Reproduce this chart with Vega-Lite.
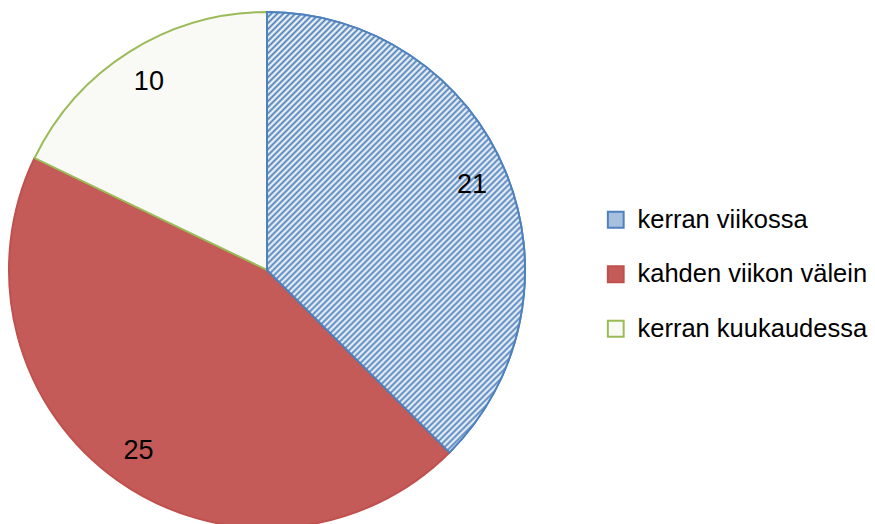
{
  "$schema": "https://vega.github.io/schema/vega-lite/v6.json",
  "width": 534,
  "height": 508,
  "autosize": {"type": "none"},
  "padding": {"left": 0, "top": 16, "right": 341, "bottom": 0},
  "background": "white",
  "config": {"view": {"stroke": null}},
  "data": {"values": [
    {"cat": "kerran viikossa", "value": 21, "o": 1},
    {"cat": "kahden viikon välein", "value": 25, "o": 2},
    {"cat": "kerran kuukaudessa", "value": 10, "o": 3}
  ]},
  "encoding": {
    "theta": {"field": "value", "type": "quantitative", "stack": true},
    "order": {"field": "o", "type": "quantitative"}
  },
  "layer": [
    {
      "mark": {"type": "arc", "outerRadius": 258, "strokeWidth": 2},
      "encoding": {
        "fill": {"field": "cat", "type": "nominal",
          "scale": {"domain": ["kerran viikossa", "kahden viikon välein", "kerran kuukaudessa"], "range": ["#A7C0DE", "#C45B58", "#F9FAF5"]},
          "legend": {"title": null, "orient": "none", "legendX": 603, "legendY": 191, "labelFont": "Liberation Sans", "labelFontSize": 25.5, "labelColor": "black", "symbolType": "square", "symbolSize": 250, "symbolStrokeWidth": 2, "rowPadding": 27.5, "labelOffset": 9, "labelLimit": 400, "padding": 0}},
        "stroke": {"field": "cat", "type": "nominal",
          "scale": {"domain": ["kerran viikossa", "kahden viikon välein", "kerran kuukaudessa"], "range": ["#4F81BD", "#C0504D", "#9BBB59"]},
          "legend": {"title": null, "orient": "none", "legendX": 603, "legendY": 191, "labelFont": "Liberation Sans", "labelFontSize": 25.5, "labelColor": "black", "symbolType": "square", "symbolSize": 250, "symbolStrokeWidth": 2, "rowPadding": 27.5, "labelOffset": 9, "labelLimit": 400, "padding": 0}}
      }
    },
    {
      "mark": {"type": "arc", "outerRadius": 258, "strokeWidth": 2, "stroke": "#4F81BD",
        "fill": {"gradient": "linear", "x1": 0, "y1": 0, "x2": 0.6917, "y2": 1.1806, "stops": [
{"offset":0,"color":"#4F81BD"},{"offset":0.0043,"color":"#fff"},{"offset":0.0086,"color":"#4F81BD"},{"offset":0.0129,"color":"#fff"},{"offset":0.0172,"color":"#4F81BD"},{"offset":0.0215,"color":"#fff"},{"offset":0.0258,"color":"#4F81BD"},{"offset":0.0301,"color":"#fff"},{"offset":0.0344,"color":"#4F81BD"},{"offset":0.0387,"color":"#fff"},
{"offset":0.043,"color":"#4F81BD"},{"offset":0.0473,"color":"#fff"},{"offset":0.0516,"color":"#4F81BD"},{"offset":0.0559,"color":"#fff"},{"offset":0.0602,"color":"#4F81BD"},{"offset":0.0645,"color":"#fff"},{"offset":0.0688,"color":"#4F81BD"},{"offset":0.0731,"color":"#fff"},{"offset":0.0774,"color":"#4F81BD"},{"offset":0.0817,"color":"#fff"},
{"offset":0.086,"color":"#4F81BD"},{"offset":0.0903,"color":"#fff"},{"offset":0.0946,"color":"#4F81BD"},{"offset":0.0989,"color":"#fff"},{"offset":0.1032,"color":"#4F81BD"},{"offset":0.1075,"color":"#fff"},{"offset":0.1118,"color":"#4F81BD"},{"offset":0.1161,"color":"#fff"},{"offset":0.1204,"color":"#4F81BD"},{"offset":0.1247,"color":"#fff"},
{"offset":0.129,"color":"#4F81BD"},{"offset":0.1333,"color":"#fff"},{"offset":0.1376,"color":"#4F81BD"},{"offset":0.1419,"color":"#fff"},{"offset":0.1462,"color":"#4F81BD"},{"offset":0.1505,"color":"#fff"},{"offset":0.1548,"color":"#4F81BD"},{"offset":0.1591,"color":"#fff"},{"offset":0.1634,"color":"#4F81BD"},{"offset":0.1677,"color":"#fff"},
{"offset":0.172,"color":"#4F81BD"},{"offset":0.1763,"color":"#fff"},{"offset":0.1806,"color":"#4F81BD"},{"offset":0.1849,"color":"#fff"},{"offset":0.1892,"color":"#4F81BD"},{"offset":0.1935,"color":"#fff"},{"offset":0.1978,"color":"#4F81BD"},{"offset":0.2021,"color":"#fff"},{"offset":0.2064,"color":"#4F81BD"},{"offset":0.2107,"color":"#fff"},
{"offset":0.215,"color":"#4F81BD"},{"offset":0.2193,"color":"#fff"},{"offset":0.2236,"color":"#4F81BD"},{"offset":0.2279,"color":"#fff"},{"offset":0.2322,"color":"#4F81BD"},{"offset":0.2365,"color":"#fff"},{"offset":0.2408,"color":"#4F81BD"},{"offset":0.2451,"color":"#fff"},{"offset":0.2494,"color":"#4F81BD"},{"offset":0.2537,"color":"#fff"},
{"offset":0.258,"color":"#4F81BD"},{"offset":0.2623,"color":"#fff"},{"offset":0.2666,"color":"#4F81BD"},{"offset":0.2709,"color":"#fff"},{"offset":0.2752,"color":"#4F81BD"},{"offset":0.2795,"color":"#fff"},{"offset":0.2838,"color":"#4F81BD"},{"offset":0.2881,"color":"#fff"},{"offset":0.2924,"color":"#4F81BD"},{"offset":0.2967,"color":"#fff"},
{"offset":0.301,"color":"#4F81BD"},{"offset":0.3053,"color":"#fff"},{"offset":0.3096,"color":"#4F81BD"},{"offset":0.3139,"color":"#fff"},{"offset":0.3182,"color":"#4F81BD"},{"offset":0.3225,"color":"#fff"},{"offset":0.3268,"color":"#4F81BD"},{"offset":0.3311,"color":"#fff"},{"offset":0.3354,"color":"#4F81BD"},{"offset":0.3397,"color":"#fff"},
{"offset":0.344,"color":"#4F81BD"},{"offset":0.3483,"color":"#fff"},{"offset":0.3526,"color":"#4F81BD"},{"offset":0.3569,"color":"#fff"},{"offset":0.3612,"color":"#4F81BD"},{"offset":0.3655,"color":"#fff"},{"offset":0.3698,"color":"#4F81BD"},{"offset":0.3741,"color":"#fff"},{"offset":0.3784,"color":"#4F81BD"},{"offset":0.3827,"color":"#fff"},
{"offset":0.387,"color":"#4F81BD"},{"offset":0.3913,"color":"#fff"},{"offset":0.3956,"color":"#4F81BD"},{"offset":0.3999,"color":"#fff"},{"offset":0.4042,"color":"#4F81BD"},{"offset":0.4085,"color":"#fff"},{"offset":0.4128,"color":"#4F81BD"},{"offset":0.4171,"color":"#fff"},{"offset":0.4214,"color":"#4F81BD"},{"offset":0.4257,"color":"#fff"},
{"offset":0.43,"color":"#4F81BD"},{"offset":0.4343,"color":"#fff"},{"offset":0.4386,"color":"#4F81BD"},{"offset":0.4429,"color":"#fff"},{"offset":0.4472,"color":"#4F81BD"},{"offset":0.4515,"color":"#fff"},{"offset":0.4558,"color":"#4F81BD"},{"offset":0.4601,"color":"#fff"},{"offset":0.4644,"color":"#4F81BD"},{"offset":0.4687,"color":"#fff"},
{"offset":0.473,"color":"#4F81BD"},{"offset":0.4773,"color":"#fff"},{"offset":0.4816,"color":"#4F81BD"},{"offset":0.4859,"color":"#fff"},{"offset":0.4902,"color":"#4F81BD"},{"offset":0.4945,"color":"#fff"},{"offset":0.4988,"color":"#4F81BD"},{"offset":0.5031,"color":"#fff"},{"offset":0.5074,"color":"#4F81BD"},{"offset":0.5117,"color":"#fff"},
{"offset":0.516,"color":"#4F81BD"},{"offset":0.5203,"color":"#fff"},{"offset":0.5246,"color":"#4F81BD"},{"offset":0.5289,"color":"#fff"},{"offset":0.5332,"color":"#4F81BD"},{"offset":0.5375,"color":"#fff"},{"offset":0.5418,"color":"#4F81BD"},{"offset":0.5461,"color":"#fff"},{"offset":0.5504,"color":"#4F81BD"},{"offset":0.5547,"color":"#fff"},
{"offset":0.559,"color":"#4F81BD"},{"offset":0.5633,"color":"#fff"},{"offset":0.5676,"color":"#4F81BD"},{"offset":0.5719,"color":"#fff"},{"offset":0.5762,"color":"#4F81BD"},{"offset":0.5805,"color":"#fff"},{"offset":0.5848,"color":"#4F81BD"},{"offset":0.5891,"color":"#fff"},{"offset":0.5934,"color":"#4F81BD"},{"offset":0.5977,"color":"#fff"},
{"offset":0.602,"color":"#4F81BD"},{"offset":0.6063,"color":"#fff"},{"offset":0.6106,"color":"#4F81BD"},{"offset":0.6149,"color":"#fff"},{"offset":0.6192,"color":"#4F81BD"},{"offset":0.6235,"color":"#fff"},{"offset":0.6278,"color":"#4F81BD"},{"offset":0.6321,"color":"#fff"},{"offset":0.6364,"color":"#4F81BD"},{"offset":0.6407,"color":"#fff"},
{"offset":0.645,"color":"#4F81BD"},{"offset":0.6493,"color":"#fff"},{"offset":0.6536,"color":"#4F81BD"},{"offset":0.6579,"color":"#fff"},{"offset":0.6622,"color":"#4F81BD"},{"offset":0.6665,"color":"#fff"},{"offset":0.6708,"color":"#4F81BD"},{"offset":0.6751,"color":"#fff"},{"offset":0.6794,"color":"#4F81BD"},{"offset":0.6837,"color":"#fff"},
{"offset":0.688,"color":"#4F81BD"},{"offset":0.6923,"color":"#fff"},{"offset":0.6966,"color":"#4F81BD"},{"offset":0.7009,"color":"#fff"},{"offset":0.7052,"color":"#4F81BD"},{"offset":0.7095,"color":"#fff"},{"offset":0.7138,"color":"#4F81BD"},{"offset":0.7181,"color":"#fff"},{"offset":0.7224,"color":"#4F81BD"},{"offset":0.7267,"color":"#fff"},
{"offset":0.731,"color":"#4F81BD"},{"offset":0.7353,"color":"#fff"},{"offset":0.7396,"color":"#4F81BD"},{"offset":0.7439,"color":"#fff"},{"offset":0.7482,"color":"#4F81BD"},{"offset":0.7525,"color":"#fff"},{"offset":0.7568,"color":"#4F81BD"},{"offset":0.7611,"color":"#fff"},{"offset":0.7654,"color":"#4F81BD"},{"offset":0.7697,"color":"#fff"},
{"offset":0.774,"color":"#4F81BD"},{"offset":0.7783,"color":"#fff"},{"offset":0.7826,"color":"#4F81BD"},{"offset":0.7869,"color":"#fff"},{"offset":0.7912,"color":"#4F81BD"},{"offset":0.7955,"color":"#fff"},{"offset":0.7998,"color":"#4F81BD"},{"offset":0.8041,"color":"#fff"},{"offset":0.8084,"color":"#4F81BD"},{"offset":0.8127,"color":"#fff"},
{"offset":0.817,"color":"#4F81BD"},{"offset":0.8213,"color":"#fff"},{"offset":0.8256,"color":"#4F81BD"},{"offset":0.8299,"color":"#fff"},{"offset":0.8342,"color":"#4F81BD"},{"offset":0.8385,"color":"#fff"},{"offset":0.8428,"color":"#4F81BD"},{"offset":0.8471,"color":"#fff"},{"offset":0.8514,"color":"#4F81BD"},{"offset":0.8557,"color":"#fff"},
{"offset":0.86,"color":"#4F81BD"},{"offset":0.8643,"color":"#fff"},{"offset":0.8686,"color":"#4F81BD"},{"offset":0.8729,"color":"#fff"},{"offset":0.8772,"color":"#4F81BD"},{"offset":0.8815,"color":"#fff"},{"offset":0.8858,"color":"#4F81BD"},{"offset":0.8901,"color":"#fff"},{"offset":0.8944,"color":"#4F81BD"},{"offset":0.8987,"color":"#fff"},
{"offset":0.903,"color":"#4F81BD"},{"offset":0.9073,"color":"#fff"},{"offset":0.9116,"color":"#4F81BD"},{"offset":0.9159,"color":"#fff"},{"offset":0.9202,"color":"#4F81BD"},{"offset":0.9245,"color":"#fff"},{"offset":0.9288,"color":"#4F81BD"},{"offset":0.9331,"color":"#fff"},{"offset":0.9374,"color":"#4F81BD"},{"offset":0.9417,"color":"#fff"},
{"offset":0.946,"color":"#4F81BD"},{"offset":0.9503,"color":"#fff"},{"offset":0.9546,"color":"#4F81BD"},{"offset":0.9589,"color":"#fff"},{"offset":0.9632,"color":"#4F81BD"},{"offset":0.9675,"color":"#fff"},{"offset":0.9718,"color":"#4F81BD"},{"offset":0.9761,"color":"#fff"},{"offset":0.9804,"color":"#4F81BD"},{"offset":0.9847,"color":"#fff"},
{"offset":0.989,"color":"#4F81BD"},{"offset":0.9933,"color":"#fff"},{"offset":0.9976,"color":"#4F81BD"}
        ]}},
      "encoding": {
        "opacity": {"condition": {"test": "datum.cat === 'kerran viikossa'", "value": 1}, "value": 0}
      }
    },
    {
      "mark": {"type": "text", "radius": 222, "fontSize": 27, "font": "Liberation Sans", "fill": "black", "align": "center", "baseline": "middle"},
      "encoding": {
        "text": {"field": "value", "type": "quantitative"}
      }
    }
  ]
}
